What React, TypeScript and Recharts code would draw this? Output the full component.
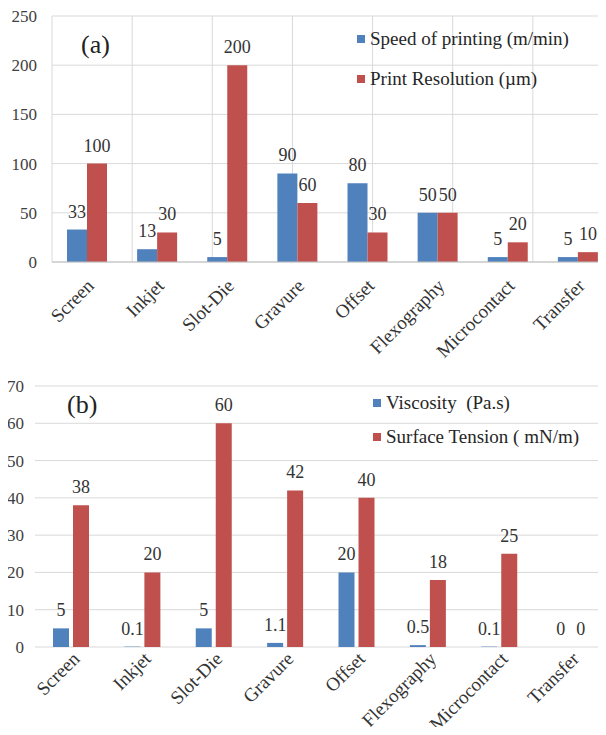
import {
  Bar,
  XAxis,
  YAxis,
  Legend,
  BarChart,
  LabelList,
  CartesianGrid,
} from "recharts";

const processes = [
  "Screen",
  "Inkjet",
  "Slot-Die",
  "Gravure",
  "Offset",
  "Flexography",
  "Microcontact",
  "Transfer",
];

// (a)
const printSpeed = [33, 13, 5, 90, 80, 50, 5, 5];
const printResolution = [100, 30, 200, 60, 30, 50, 20, 10];
const ticksA = [0, 50, 100, 150, 200, 250];

// (b)
const viscosity = [5, 0.1, 5, 1.1, 20, 0.5, 0.1, 0];
const surfaceTension = [38, 20, 60, 42, 40, 18, 25, 0];
const ticksB = [0, 10, 20, 30, 40, 50, 60, 70];

// category boundaries, used for grid lines / tick marks between the groups
const edgeTicks = [0, 1, 2, 3, 4, 5, 6, 7, 8];

const dataA = processes.map((name, i) => ({
  name,
  speed: printSpeed[i],
  resolution: printResolution[i],
}));

const dataB = processes.map((name, i) => ({
  name,
  viscosity: viscosity[i],
  tension: surfaceTension[i],
}));

const SERIF = "Liberation Serif, DejaVu Serif, Noto Serif, serif";
const BLUE = "#4f81bd";
const RED = "#c0504d";
const GRID = "#d9d9d9";
const AXIS = "#bfbfbf";

const valueLabel = { fontFamily: SERIF, fontSize: 18, fill: "#333" };
const yTick = { fontFamily: SERIF, fontSize: 17, fill: "#404040" };

function CategoryTick(props: any) {
  const { x, y, payload, sx = 0, sy = 0 } = props;
  const tx = x + sx;
  const ty = y + sy;
  return (
    <text
      x={tx}
      y={ty}
      transform={`rotate(-45 ${tx} ${ty})`}
      textAnchor="end"
      style={{ fontFamily: SERIF, fontSize: 19 }}
      fill="#333"
    >
      {payload.value}
    </text>
  );
}

// legend keeps series order (blue first), recharts sorts by name otherwise
function LegendBox({ payload, rowH, order }: any) {
  const items = [...(payload || [])].sort(
    (a: any, b: any) => order.indexOf(a.dataKey) - order.indexOf(b.dataKey)
  );
  return (
    <div style={{ fontFamily: SERIF, fontSize: 19, color: "#262626" }}>
      {items.map((entry: any) => (
        <div
          key={entry.value}
          style={{
            display: "flex",
            alignItems: "center",
            height: rowH,
            whiteSpace: "pre",
          }}
        >
          <span
            style={{
              width: 8,
              height: 8,
              background: entry.color,
              marginRight: 5,
              display: "inline-block",
            }}
          />
          {entry.value}
        </div>
      ))}
    </div>
  );
}

const panelTag = {
  position: "absolute" as const,
  fontFamily: SERIF,
  fontSize: 26,
  lineHeight: "30px",
  color: "#222",
};

function ChartA() {
  return (
    <div style={{ position: "relative", width: 620, height: 370 }}>
      <BarChart
        width={620}
        height={370}
        data={dataA}
        margin={{ top: 16, right: 7, bottom: 0, left: 0 }}
        barGap={0}
        barSize={20}
      >
        <CartesianGrid xAxisId="edge" stroke={GRID} />
        <XAxis
          xAxisId="edge"
          type="number"
          domain={[0, 8]}
          ticks={edgeTicks}
          allowDataOverflow
          hide
        />
        <XAxis
          xAxisId="cat"
          dataKey="name"
          interval={0}
          height={108}
          tickLine={false}
          axisLine={{ stroke: AXIS }}
          tick={<CategoryTick sx={8} sy={17} />}
        />
        <YAxis
          domain={[0, 250]}
          ticks={ticksA}
          width={52}
          axisLine={false}
          tickLine={false}
          tickMargin={9}
          tick={yTick}
        />
        <Bar
          xAxisId="cat"
          dataKey="speed"
          name="Speed of printing (m/min)"
          fill={BLUE}
          isAnimationActive={false}
        >
          <LabelList dataKey="speed" position="top" offset={12} style={valueLabel} />
        </Bar>
        <Bar
          xAxisId="cat"
          dataKey="resolution"
          name="Print Resolution (µm)"
          fill={RED}
          isAnimationActive={false}
        >
          <LabelList dataKey="resolution" position="top" offset={12} style={valueLabel} />
        </Bar>
        <Legend
          layout="horizontal"
          verticalAlign="middle"
          align="center"
          wrapperStyle={{ left: 357, top: 19, width: "auto", height: "auto" }}
          content={(p: any) => (
            <LegendBox payload={p.payload} rowH={40} order={["speed", "resolution"]} />
          )}
        />
      </BarChart>
      <div style={{ ...panelTag, left: 81, top: 30 }}>(a)</div>
    </div>
  );
}

function ChartB() {
  return (
    <div style={{ position: "relative", width: 620, height: 365 }}>
      <BarChart
        width={620}
        height={365}
        data={dataB}
        margin={{ top: 16, right: 14, bottom: 0, left: 0 }}
        barGap={4}
        barSize={16}
      >
        <CartesianGrid xAxisId="cat" vertical={false} stroke={GRID} />
        <XAxis
          xAxisId="edge"
          type="number"
          domain={[0, 8]}
          ticks={edgeTicks}
          allowDataOverflow
          height={1}
          tick={false}
          axisLine={{ stroke: AXIS }}
          tickLine={{ stroke: AXIS }}
          tickSize={5}
        />
        <XAxis
          xAxisId="cat"
          dataKey="name"
          interval={0}
          height={87}
          tickLine={false}
          axisLine={false}
          tick={<CategoryTick sx={10} sy={5} />}
        />
        <YAxis
          domain={[0, 70]}
          ticks={ticksB}
          width={35}
          axisLine={false}
          tickLine={false}
          tickMargin={5}
          tick={yTick}
        />
        <Bar
          xAxisId="cat"
          dataKey="viscosity"
          name="Viscosity  (Pa.s)"
          fill={BLUE}
          minPointSize={0.01}
          isAnimationActive={false}
        >
          <LabelList dataKey="viscosity" position="top" offset={12} style={valueLabel} />
        </Bar>
        <Bar
          xAxisId="cat"
          dataKey="tension"
          name="Surface Tension ( mN/m)"
          fill={RED}
          minPointSize={0.01}
          isAnimationActive={false}
        >
          <LabelList dataKey="tension" position="top" offset={12} style={valueLabel} />
        </Bar>
        <Legend
          layout="horizontal"
          verticalAlign="middle"
          align="center"
          wrapperStyle={{ left: 373, top: 16, width: "auto", height: "auto" }}
          content={(p: any) => (
            <LegendBox payload={p.payload} rowH={34} order={["viscosity", "tension"]} />
          )}
        />
      </BarChart>
      <div style={{ ...panelTag, left: 67, top: 20 }}>(b)</div>
    </div>
  );
}

export default function App() {
  return (
    <div
      style={{
        margin: -8,
        width: 606,
        height: 735,
        overflow: "hidden",
        position: "relative",
        background: "#fff",
      }}
    >
      <ChartA />
      <ChartB />
    </div>
  );
}
